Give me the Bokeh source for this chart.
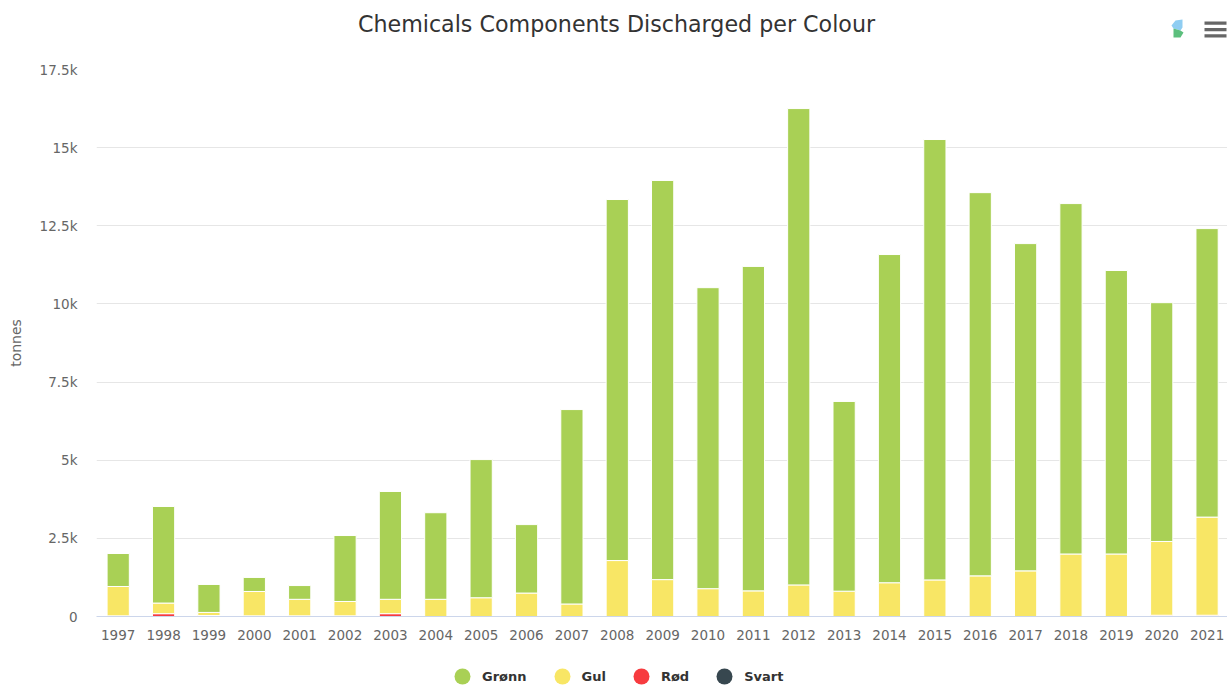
from bokeh.plotting import figure
from bokeh.embed import file_html
from bokeh.layouts import column
from bokeh.resources import INLINE
from bokeh.core.properties import value
from bokeh.models import Range1d, FixedTicker, Legend, LegendItem, ColumnDataSource

title = "Chemicals Components Discharged per Colour"
years = list(range(1997, 2022))
year_labels = [str(y) for y in years]
totals = [2015, 3520, 1025, 1250, 990, 2590, 4000, 3320, 5020, 2940, 6620, 13340, 13950,
          10520, 11200, 16250, 6880, 11580, 15260, 13560, 11930, 13210, 11070, 10040, 12410]
gul_top = [960, 430, 130, 800, 550, 480, 550, 550, 600, 750, 400, 1790, 1180,
           890, 820, 1010, 810, 1080, 1170, 1300, 1460, 2000, 2000, 2400, 3180]
rod = [20, 90, 30, 20, 20, 20, 90, 0, 0, 0, 0, 0, 0,
       0, 0, 0, 0, 0, 0, 0, 0, 0, 0, 40, 40]
svart = [0] * 25
gronn = [t - g for t, g in zip(totals, gul_top)]
gul = [g - r - s for g, r, s in zip(gul_top, rod, svart)]
y_ticks = [0, 2500, 5000, 7500, 10000, 12500, 15000, 17500]
y_tick_labels = ["0", "2.5k", "5k", "7.5k", "10k", "12.5k", "15k", "17.5k"]
series = ["Svart", "Rød", "Gul", "Grønn"]
colors = {"Grønn": "#a9d055", "Gul": "#f8e665", "Rød": "#f73b3f", "Svart": "#37474f"}
FONT = "DejaVu Sans"

W = 1227
LEFT = 96  # the column lines all frames up with the main chart's frame
TOP_H, MAIN_H, BOT_H = 60, 590, 36


def strip(height, y_range):
    f = figure(width=W, height=height, output_backend="svg", toolbar_location=None,
               x_range=Range1d(LEFT, W), y_range=y_range, x_axis_location=None, y_axis_location=None,
               min_border=0, min_border_left=LEFT, min_border_right=0, min_border_top=0, min_border_bottom=0)
    f.outline_line_color = None
    f.grid.visible = False
    return f


# header strip: title, logo and menu button (y counted down from the page top)
top = strip(TOP_H, Range1d(TOP_H, 0))
top.text(x=[616], y=[23], text=[title], text_align="center", text_baseline="middle",
         text_font=value(FONT), text_font_size="22.2px", text_color="#333333")
top.patch([1171, 1175, 1182, 1182, 1180, 1173], [25, 20, 19, 27, 30, 28], fill_color="#8fcdf2", line_color=None)
top.patch([1173, 1180, 1183, 1180, 1173], [28, 30, 32, 37, 37], fill_color="#5cbf7d", line_color=None)
top.quad(left=[1204] * 3, right=[1226] * 3, top=[21, 27.4, 33.8], bottom=[24.3, 30.7, 37.1],
         fill_color="#666666", line_color=None)

# main chart
STEP = 45.37
X0 = 1997 - 21.7 / STEP
p = figure(width=W, height=MAIN_H, output_backend="svg", toolbar_location=None,
           x_range=Range1d(X0, X0 + (W - LEFT) / STEP), y_range=Range1d(0, 17500),
           min_border_left=LEFT, min_border_right=0, min_border_top=9, min_border_bottom=34)
p.outline_line_color = None
p.xgrid.visible = False
p.ygrid.grid_line_color = "#e6e6e6"
p.ygrid.ticker = FixedTicker(ticks=y_ticks)

src = ColumnDataSource(dict(x=years, Svart=svart, Rød=rod, Gul=gul, Grønn=gronn))
p.vbar_stack(series, x="x", width=0.49, source=src, color=[colors[s] for s in series],
             line_color="white", line_width=1)

p.xaxis.ticker = FixedTicker(ticks=years)
p.xaxis.major_label_overrides = dict(zip(years, year_labels))
p.xaxis.axis_line_color = "#ccd6eb"
p.xaxis.major_tick_line_color = None
p.xaxis.minor_tick_line_color = None
p.xaxis.major_tick_out = 0
p.xaxis.major_tick_in = 0
p.xaxis.minor_tick_out = 0
p.xaxis.major_label_text_font = FONT
p.xaxis.major_label_text_font_size = "13.5px"
p.xaxis.major_label_text_color = "#666666"
p.xaxis.major_label_standoff = 13

p.yaxis.ticker = FixedTicker(ticks=y_ticks)
p.yaxis.major_label_overrides = dict(zip(y_ticks, y_tick_labels))
p.yaxis.axis_line_color = None
p.yaxis.major_tick_line_color = None
p.yaxis.minor_tick_line_color = None
p.yaxis.major_tick_out = 0
p.yaxis.major_tick_in = 0
p.yaxis.minor_tick_out = 0
p.yaxis.major_label_text_font = FONT
p.yaxis.major_label_text_font_size = "13.5px"
p.yaxis.major_label_text_color = "#666666"
p.yaxis.major_label_standoff = 19
p.yaxis.axis_label = "tonnes"
p.yaxis.axis_label_text_font = FONT
p.yaxis.axis_label_text_font_size = "14px"
p.yaxis.axis_label_text_font_style = "normal"
p.yaxis.axis_label_text_color = "#666666"
p.yaxis.axis_label_standoff = 13

# legend strip: the legend draws a circle 0.4 times as wide as its glyph box
bot = strip(BOT_H, Range1d(0, BOT_H))
items = []
for s in ["Grønn", "Gul", "Rød", "Svart"]:
    r = bot.circle([float("nan")], [float("nan")], radius=1, fill_color=colors[s], line_color=None)
    items.append(LegendItem(label=s, renderers=[r]))
legend = Legend(items=items, orientation="horizontal", location=(346, -10),
                glyph_width=40, glyph_height=40, label_height=40, label_standoff=0, spacing=15,
                padding=0, margin=0, border_line_color=None, background_fill_alpha=0,
                label_text_font=FONT, label_text_font_size="13px", label_text_font_style="bold",
                label_text_color="#333333")
bot.add_layout(legend, "center")

open("out.html", "w").write(file_html(column(top, p, bot, spacing=0), INLINE))
